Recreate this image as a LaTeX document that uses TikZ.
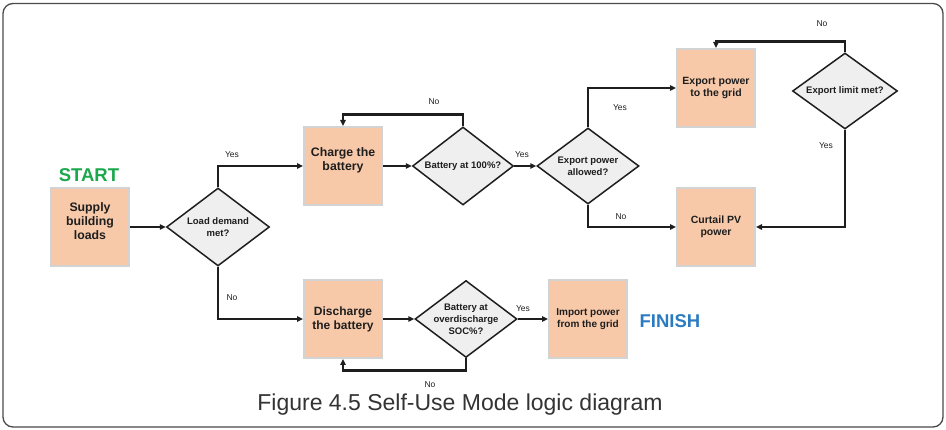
\documentclass[tikz,border=0pt]{standalone}
\usepackage{fontspec}
\setmainfont{Liberation Sans}
\usetikzlibrary{shapes.geometric,arrows.meta}
\definecolor{peach}{HTML}{F8C9A9}
\definecolor{boxline}{HTML}{D3D3D3}
\definecolor{diafill}{HTML}{EEEFEE}
\definecolor{ink}{HTML}{1E1E1E}
\definecolor{startgreen}{HTML}{1AA84B}
\definecolor{finishblue}{HTML}{2A7BC1}
\definecolor{capgray}{HTML}{333333}
\definecolor{framegray}{HTML}{4A4A4A}
\begin{document}
\begin{tikzpicture}[x=1pt,y=-1pt,
  stepbox/.style={draw=boxline, line width=2pt, fill=peach, minimum width=78pt, minimum height=78pt,
    inner sep=0pt, align=center, font=\bfseries\fontsize{12}{14}\selectfont, text=ink},
  smallbox/.style={stepbox, font=\bfseries\fontsize{10.5}{12.5}\selectfont},
  boxtext/.style={align=center, inner sep=0pt, font=\bfseries\fontsize{12.3}{14}\selectfont, text=ink},
  dia/.style={diamond, draw=ink, line width=1.5pt, fill=diafill, minimum width=102pt, minimum height=77pt, inner sep=0pt},
  diatext/.style={align=center, inner sep=0pt, font=\bfseries\fontsize{9.5}{12}\selectfont, text=ink},
  conn/.style={draw=ink, line width=2.6pt, -{Triangle[length=6pt,width=5.5pt]}},
  lbl/.style={font=\fontsize{8.5}{10}\selectfont, text=ink, inner sep=0pt},
  bigword/.style={font=\bfseries\fontsize{18.5}{22}\selectfont, inner sep=0pt}]
\useasboundingbox (0,0) rectangle (946,430);
\draw[framegray, line width=1.3pt, rounded corners=10pt] (3,3.5) rectangle (943,427);

% boxes
\node[stepbox] (s) at (90,227) {};
\node[boxtext] (st) at ([yshift=6pt]s.center) {Supply\\building\\loads};
\node[stepbox] (c) at (343,166) {};
\node[boxtext] (ct) at ([yshift=6pt]c.center) {Charge the\\battery};
\node[smallbox] (e) at (716,88) {Export power\\to the grid};
\node[smallbox] (cu) at (716,227) {Curtail PV\\power};
\node[stepbox] (dis) at (343,319) {Discharge\\the battery};
\node[smallbox, font=\bfseries\fontsize{10}{12}\selectfont] (im) at (588,319) {Import power\\from the grid};

% diamonds
\node[dia, minimum width=103pt, minimum height=78pt] (d1) at (218,227) {};
\node[diatext] (d1t) at (d1) {Load demand\\met?};
\node[dia, minimum width=101pt, minimum height=78pt] (d2) at (463,166) {};
\node[diatext] (d2t) at (d2) {Battery at 100\%?};
\node[dia, minimum width=102pt, minimum height=76pt] (d3) at (588,166) {};
\node[diatext] (d3t) at (d3) {Export power\\allowed?};
\node[dia, minimum width=105pt, minimum height=76pt] (d4) at (845,91) {};
\node[diatext] (d4t) at (d4) {Export limit met?};
\node[dia, minimum width=102pt, minimum height=77pt] (d5) at (466,319) {};
\node[diatext] (d5t) at (d5) {Battery at\\overdischarge\\SOC\%?};

% start / finish
\node[bigword, text=startgreen] (start) at (89,175.5) {START};
\node[bigword, text=finishblue] (finish) at (670,321) {FINISH};

% connectors
\draw[conn] (s) -- (d1);
\draw[conn] (d1.north) |- (c);
\draw[conn] (c) -- (d2);
\draw[conn] (d2.north) -- ++(0,-12) -| (c.north);
\draw[conn] (d2) -- (d3);
\draw[conn] (d3.north) |- (e);
\draw[conn] (d4.north) -- ++(0,-11) -| (e.north);
\draw[conn] (d4.south) |- (cu);
\draw[conn] (d3.south) |- (cu);
\draw[conn] (d1.south) |- (dis);
\draw[conn] (dis) -- (d5);
\draw[conn] (d5.south) -- ++(0,12) -| (dis.south);
\draw[conn] (d5) -- (im);

% labels
\node[lbl] (l1) at (232,155) {Yes};
\node[lbl] (l2) at (434,102) {No};
\node[lbl] (l3) at (522,155) {Yes};
\node[lbl] (l4) at (620,108) {Yes};
\node[lbl] (l5) at (822,24) {No};
\node[lbl] (l6) at (826,146) {Yes};
\node[lbl] (l7) at (621,217) {No};
\node[lbl] (l8) at (232,298) {No};
\node[lbl] (l9) at (523,309) {Yes};
\node[lbl] (l10) at (430,385) {No};

% caption
\node[font=\fontsize{23}{26}\selectfont, text=capgray, inner sep=0pt] (cap) at (460,405) {Figure 4.5 Self-Use Mode logic diagram};
\end{tikzpicture}
\end{document}
